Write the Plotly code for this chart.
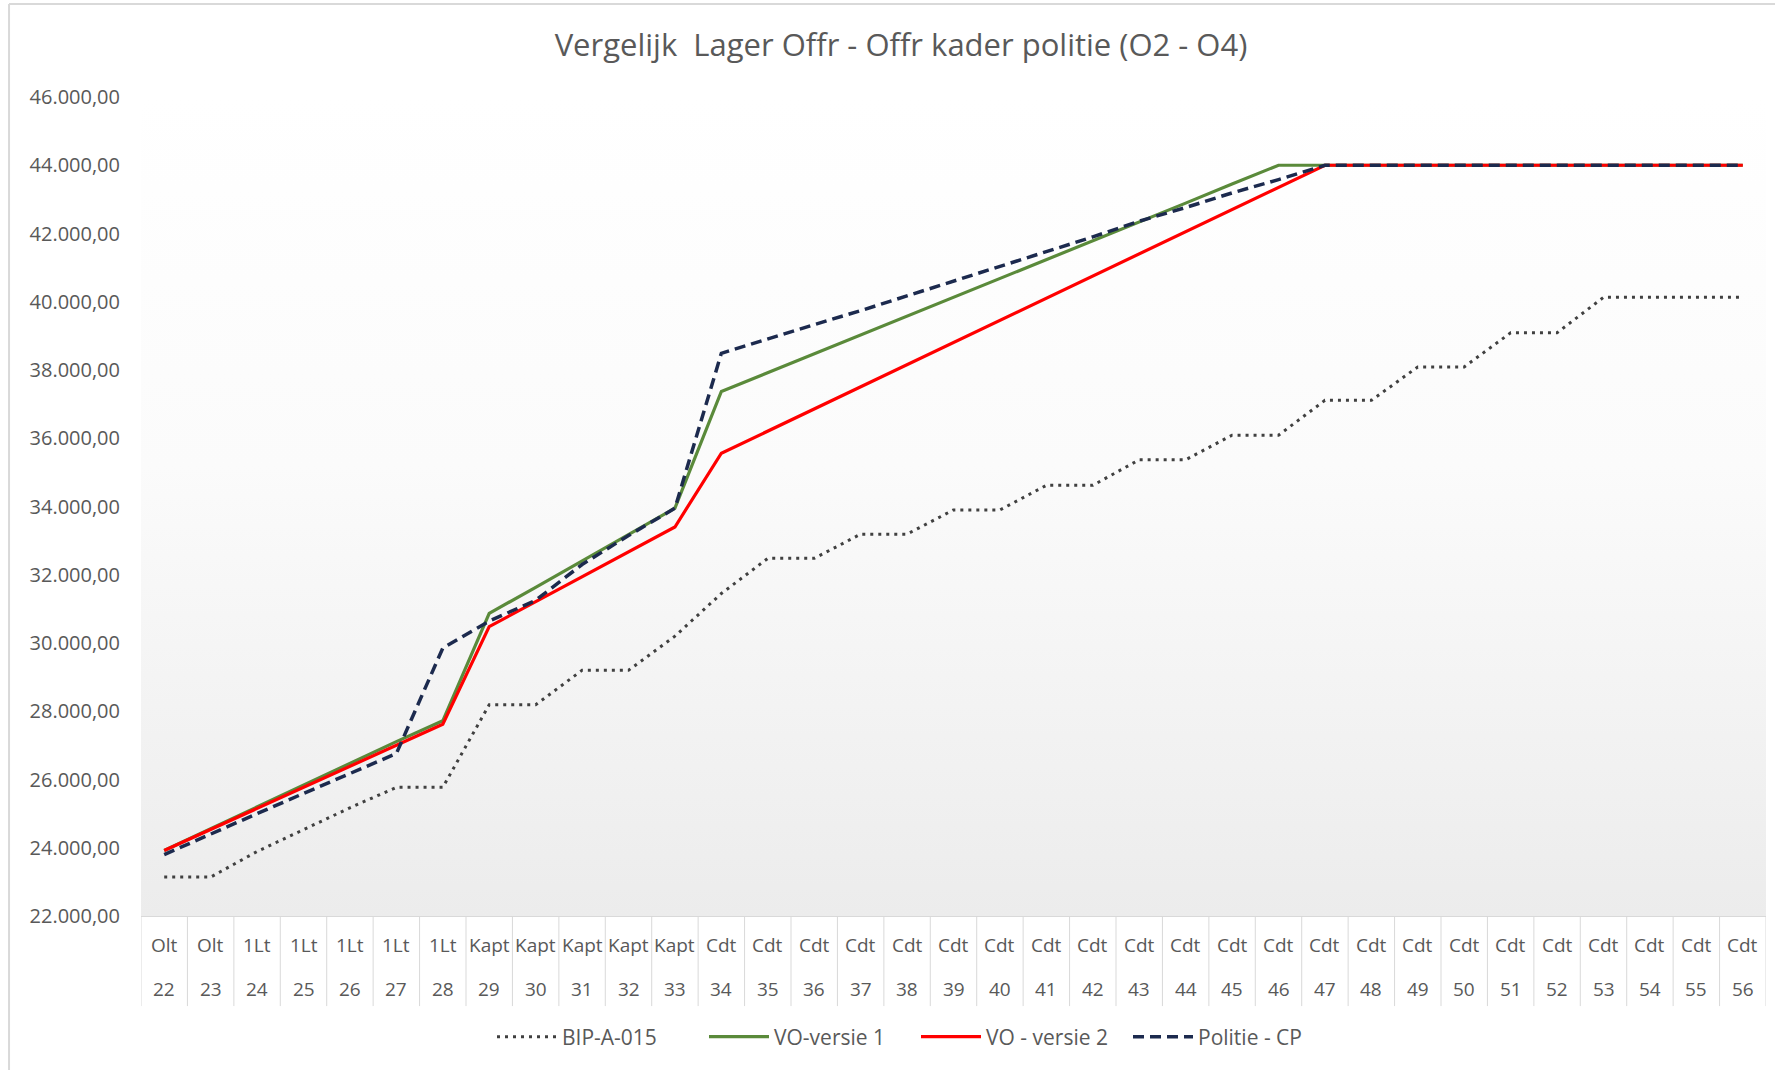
import plotly.graph_objects as go

# categories (rang / jaren)
ranks = ["Olt", "Olt", "1Lt", "1Lt", "1Lt", "1Lt", "1Lt",
         "Kapt", "Kapt", "Kapt", "Kapt", "Kapt",
         "Cdt", "Cdt", "Cdt", "Cdt", "Cdt", "Cdt", "Cdt", "Cdt", "Cdt", "Cdt",
         "Cdt", "Cdt", "Cdt", "Cdt", "Cdt", "Cdt", "Cdt", "Cdt", "Cdt", "Cdt",
         "Cdt", "Cdt", "Cdt"]
steps = ["22", "23", "24", "25", "26", "27", "28", "29", "30", "31", "32", "33",
         "34", "35", "36", "37", "38", "39", "40", "41", "42", "43", "44", "45",
         "46", "47", "48", "49", "50", "51", "52", "53", "54", "55", "56"]

bip = [23140, 23140, 23890, 24540, 25170, 25770, 25770, 28190, 28190, 29200,
       29200, 30200, 31450, 32480, 32480, 33190, 33190, 33900, 33900, 34620,
       34620, 35370, 35370, 36090, 36090, 37110, 37110, 38090, 38090, 39090,
       39090, 40130, 40130, 40130, 40130]
vo1 = [23920, 24560, 25200, 25830, 26470, 27110, 27720, 30870, 31630, 32400,
       33170, 33950, 37370, 37920, 38470, 39030, 39580, 40130, 40680, 41240,
       41790, 42340, 42890, 43450, 44000, 44000, 44000, 44000, 44000, 44000,
       44000, 44000, 44000, 44000, 44000]
vo2 = [23920, 24540, 25160, 25780, 26400, 27020, 27620, 30480, 31210, 31940,
       32670, 33400, 35560, 36210, 36860, 37510, 38160, 38800, 39450, 40100,
       40750, 41400, 42050, 42700, 43350, 44000, 44000, 44000, 44000, 44000,
       44000, 44000, 44000, 44000, 44000]
politie = [23800, 24410, 25000, 25590, 26170, 26760, 29850, 30640, 31250, 32300,
           33150, 33950, 38490, 38920, 39330, 39740, 40170, 40600, 41040, 41480,
           41900, 42360, 42760, 43190, 43580, 44000, 44000, 44000, 44000, 44000,
           44000, 44000, 44000, 44000, 44000]

y_range = [22000, 46000]
xs = list(range(len(steps)))

txt = "#595959"
grid = "#d9d9d9"
font = "Open Sans"

fig = go.Figure()

# plot area background with soft vertical gradient (like Excel)
fig.add_trace(go.Scatter(
    x=[-0.5, len(xs) - 0.5, len(xs) - 0.5, -0.5, -0.5],
    y=[y_range[0], y_range[0], y_range[1], y_range[1], y_range[0]],
    mode="none", fill="toself",
    fillgradient=dict(type="vertical", start=y_range[0], stop=y_range[1],
                      colorscale=[[0, "#ececec"], [0.55, "#fbfbfb"], [1, "#ffffff"]]),
    showlegend=False, hoverinfo="skip"))

fig.add_trace(go.Scatter(x=xs, y=bip, name="BIP-A-015", mode="lines",
                         line=dict(color="#404040", width=3, dash="3px,5px")))
fig.add_trace(go.Scatter(x=xs, y=vo1, name="VO-versie 1", mode="lines",
                         line=dict(color="#5a8a3a", width=3.2)))
fig.add_trace(go.Scatter(x=xs, y=vo2, name="VO - versie 2", mode="lines",
                         line=dict(color="#ff0000", width=3.2)))
fig.add_trace(go.Scatter(x=xs, y=politie, name="Politie - CP", mode="lines",
                         line=dict(color="#1c2a4e", width=3.5, dash="11px,6px")))

# category labels, two rows
for i in xs:
    fig.add_annotation(x=i, y=0, xref="x", yref="paper", text=ranks[i],
                       showarrow=False, yshift=-29, yanchor="middle",
                       font=dict(family=font, size=19, color=txt))
    fig.add_annotation(x=i, y=0, xref="x", yref="paper", text=steps[i],
                       showarrow=False, yshift=-73, yanchor="middle",
                       font=dict(family=font, size=19, color=txt))

# cell separators under the axis
for i in range(len(xs) + 1):
    fig.add_shape(type="line", xref="x", yref="paper",
                  x0=i - 0.5, x1=i - 0.5, y0=0, y1=-0.11,
                  line=dict(color=grid, width=1))

# outer chart border
fig.add_shape(type="line", xref="paper", yref="paper",
              x0=-0.0812, x1=-0.0812, y0=1.1136, y1=-0.2,
              line=dict(color=grid, width=2))
fig.add_shape(type="line", xref="paper", yref="paper",
              x0=-0.0812, x1=1.01, y0=1.1136, y1=1.1136,
              line=dict(color=grid, width=2))

fig.update_layout(
    width=1775, height=1070,
    margin=dict(l=141, r=9, t=97, b=154),
    paper_bgcolor="white", plot_bgcolor="white",
    separators=",.",
    title=dict(text="Vergelijk  Lager Offr - Offr kader politie (O2 - O4)",
               x=901 / 1775, xanchor="center", y=1 - 45 / 1070, yanchor="middle",
               font=dict(family=font, size=31, color=txt)),
    legend=dict(orientation="h", xref="container", yref="container",
                x=916 / 1775, xanchor="center", y=1 - 1037 / 1070, yanchor="middle",
                font=dict(family=font, size=21, color=txt),
                entrywidth=137, itemwidth=60),
    showlegend=True,
)
fig.update_xaxes(range=[-0.5, len(xs) - 0.5], tickmode="array", tickvals=xs,
                 showticklabels=False, showgrid=True, gridcolor=grid, gridwidth=1,
                 zeroline=False, showline=True, linecolor=grid, linewidth=1)
fig.update_yaxes(range=y_range, dtick=2000, tickformat=",.2f",
                 showgrid=True, gridcolor=grid, gridwidth=1.5, zeroline=False,
                 ticklabelstandoff=20,
                 tickfont=dict(family=font, size=20, color=txt))

fig.write_html("out.html", config={"displayModeBar": False},
               post_script="document.body.style.margin='0px';")
